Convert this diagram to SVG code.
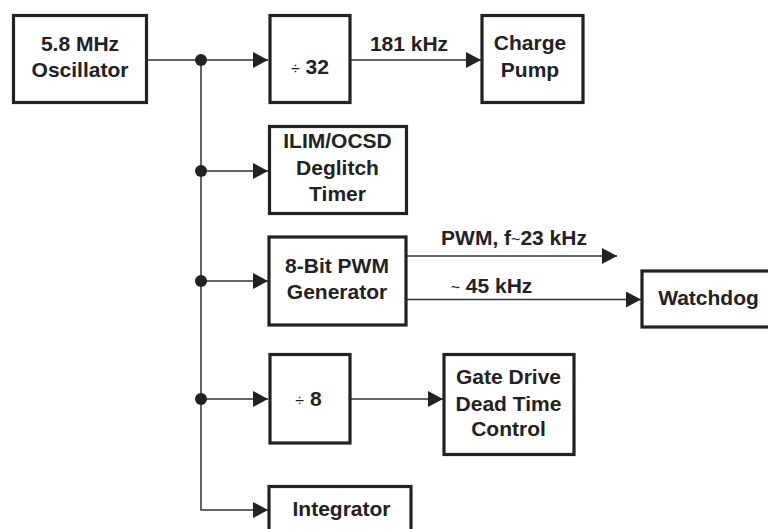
<svg xmlns="http://www.w3.org/2000/svg" width="768" height="529" viewBox="0 0 768 529">
<style>
  .box { fill: #fff; stroke: #222; stroke-width: 3.2; }
  .t { font-family: "Liberation Sans", Arial, Helvetica, sans-serif; font-weight: bold; font-size: 21px; fill: #222; text-anchor: middle; }
  .sym { font-weight: normal; font-size: 16px; }
  .w { stroke: #333; stroke-width: 1.5; fill: none; }
  .dot { fill: #222; }
</style>
<defs>
  <marker id="arr" markerUnits="userSpaceOnUse" markerWidth="16" markerHeight="16" refX="15" refY="8" orient="auto">
    <path d="M0,0 L15,8 L0,16 Z" fill="#222"/>
  </marker>
</defs>
<rect width="768" height="529" fill="#fff"/>

<g id="connectors">
  <path class="w" d="M148,60 H268" marker-end="url(#arr)"/>
  <path class="w" d="M201,60 V510 H268" marker-end="url(#arr)"/>
  <path class="w" d="M201,171 H268" marker-end="url(#arr)"/>
  <path class="w" d="M201,281 H268" marker-end="url(#arr)"/>
  <path class="w" d="M201,399 H268" marker-end="url(#arr)"/>
  <path class="w" d="M351,60 H481" marker-end="url(#arr)"/>
  <path class="w" d="M407,256 H617" marker-end="url(#arr)"/>
  <path class="w" d="M407,299.5 H641" marker-end="url(#arr)"/>
  <path class="w" d="M351,399 H443" marker-end="url(#arr)"/>
  <circle class="dot" cx="201" cy="60" r="6"/>
  <circle class="dot" cx="201" cy="171" r="6"/>
  <circle class="dot" cx="201" cy="281" r="6"/>
  <circle class="dot" cx="201" cy="399" r="6"/>
  <text class="t" x="409" y="51">181 kHz</text>
  <text class="t" x="514" y="245">PWM, f<tspan class="sym">~</tspan>23 kHz</text>
  <text class="t" x="491.5" y="293"><tspan class="sym">~</tspan> 45 kHz</text>
</g>

<g id="oscillator">
  <rect class="box" x="13.5" y="15.5" width="133" height="87"/>
  <text class="t" x="80" y="51">5.8 MHz</text>
  <text class="t" x="80" y="77">Oscillator</text>
</g>
<g id="div32">
  <rect class="box" x="270" y="15.5" width="80" height="87"/>
  <text class="t" x="310" y="73.5"><tspan class="sym">÷</tspan> 32</text>
</g>
<g id="chargepump">
  <rect class="box" x="482" y="15.5" width="101" height="87"/>
  <text class="t" x="530" y="50">Charge</text>
  <text class="t" x="530" y="77">Pump</text>
</g>
<g id="ilim">
  <rect class="box" x="269.5" y="126.5" width="137" height="87"/>
  <text class="t" x="337.5" y="148">ILIM/OCSD</text>
  <text class="t" x="337.5" y="175">Deglitch</text>
  <text class="t" x="337.5" y="201">Timer</text>
</g>
<g id="pwmgen">
  <rect class="box" x="269" y="237" width="137" height="88"/>
  <text class="t" x="337" y="272.5">8-Bit PWM</text>
  <text class="t" x="337" y="299">Generator</text>
</g>
<g id="watchdog">
  <rect class="box" x="642" y="271" width="140" height="56"/>
  <text class="t" x="708.5" y="305">Watchdog</text>
</g>
<g id="div8">
  <rect class="box" x="270" y="354.5" width="80" height="88.5"/>
  <text class="t" x="308.5" y="405.5"><tspan class="sym">÷</tspan> 8</text>
</g>
<g id="gatedrive">
  <rect class="box" x="444" y="354.5" width="130" height="100"/>
  <text class="t" x="508.5" y="384">Gate Drive</text>
  <text class="t" x="508.5" y="410.5">Dead Time</text>
  <text class="t" x="508.5" y="436">Control</text>
</g>
<g id="integrator">
  <rect class="box" x="269" y="486.5" width="142" height="60"/>
  <text class="t" x="341.5" y="516">Integrator</text>
</g>
</svg>
